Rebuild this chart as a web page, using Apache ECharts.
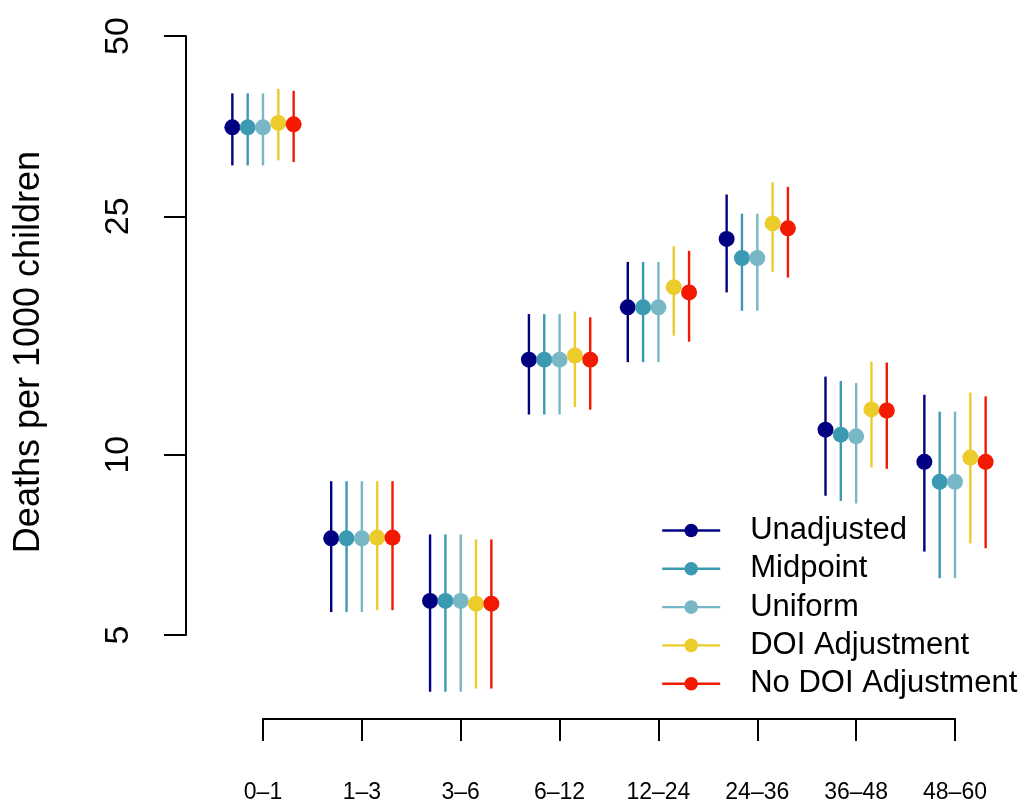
<!DOCTYPE html>
<html>
<head>
<meta charset="utf-8">
<script src="https://cdn.jsdelivr.net/npm/echarts@6/dist/echarts.min.js"></script>
<style>
  html, body { margin: 0; padding: 0; background: #ffffff; }
  #chart { width: 1021px; height: 804px; }
</style>
</head>
<body>
<div id="chart"></div>
<script>
// Age groups (months) and estimation methods
const ageGroups = ['0–1', '1–3', '3–6', '6–12', '12–24', '24–36', '36–48', '48–60'];
const methods = ['Unadjusted', 'Midpoint', 'Uniform', 'DOI Adjustment', 'No DOI Adjustment'];
const yTickValues = [5, 10, 25, 50];

// Point estimates, deaths per 1000 children
const unadjustedEst = [35.2, 7.25, 5.70, 14.41, 17.62, 22.92, 11.01, 9.73];
const midpointEst   = [35.2, 7.25, 5.70, 14.41, 17.62, 21.30, 10.80, 9.01];
const uniformEst    = [35.2, 7.25, 5.70, 14.41, 17.62, 21.30, 10.73, 9.01];
const doiEst        = [35.8, 7.27, 5.64, 14.64, 19.04, 24.33, 11.90, 9.89];
const noDoiEst      = [35.6, 7.27, 5.64, 14.41, 18.66, 23.87, 11.85, 9.73];

// Lower interval bounds
const unadjustedLow = [30.4, 5.46, 4.02, 11.67, 14.27, 18.66, 8.54, 6.89];
const midpointLow   = [30.4, 5.46, 4.02, 11.67, 14.27, 17.39, 8.37, 6.22];
const uniformLow    = [30.4, 5.46, 4.02, 11.67, 14.27, 17.39, 8.29, 6.22];
const doiLow        = [31.0, 5.50, 4.07, 12.01, 15.80, 20.19, 9.52, 7.11];
const noDoiLow      = [30.8, 5.50, 4.07, 11.89, 15.44, 19.76, 9.47, 6.98];

// Upper interval bounds
const unadjustedHigh = [40.1, 9.03, 7.36, 17.17, 20.98, 27.19, 13.50, 12.59];
const midpointHigh   = [40.1, 9.03, 7.36, 17.17, 20.98, 25.25, 13.27, 11.80];
const uniformHigh    = [40.1, 9.03, 7.36, 17.17, 20.98, 25.25, 13.17, 11.80];
const doiHigh        = [40.8, 9.03, 7.22, 17.33, 22.28, 28.50, 14.30, 12.70];
const noDoiHigh      = [40.5, 9.03, 7.22, 16.96, 21.89, 28.00, 14.25, 12.51];

const estimates = [unadjustedEst, midpointEst, uniformEst, doiEst, noDoiEst];
const lows = [unadjustedLow, midpointLow, uniformLow, doiLow, noDoiLow];
const highs = [unadjustedHigh, midpointHigh, uniformHigh, doiHigh, noDoiHigh];

const colors = ['#000080', '#3B9AB2', '#78B7C5', '#EBCC2A', '#F21A00'];
const dodge = [-0.31, -0.155, 0, 0.155, 0.31];
const FONT = "'Liberation Sans', Arial, Helvetica, sans-serif";

const series = [];
// Interval segments
methods.forEach((m, s) => {
  series.push({
    name: m + ' interval',
    type: 'custom',
    z: 2,
    silent: true,
    clip: false,
    data: ageGroups.map((g, i) => [i + dodge[s], lows[s][i], highs[s][i]]),
    renderItem: (params, api) => {
      const a = api.coord([api.value(0), api.value(1)]);
      const b = api.coord([api.value(0), api.value(2)]);
      return {
        type: 'line',
        shape: { x1: a[0], y1: a[1], x2: b[0], y2: b[1] },
        style: { stroke: colors[s], lineWidth: 2.4 }
      };
    }
  });
});
// Point estimates
methods.forEach((m, s) => {
  series.push({
    name: m,
    type: 'line',
    z: 3,
    clip: false,
    symbol: 'circle',
    symbolSize: 16,
    showSymbol: true,
    itemStyle: { color: colors[s] },
    lineStyle: { color: colors[s], width: 2.4, opacity: 0 },
    emphasis: { disabled: true },
    data: ageGroups.map((g, i) => [i + dodge[s], estimates[s][i]])
  });
});

const chart = echarts.init(document.getElementById('chart'));
chart.setOption({
  animation: false,
  backgroundColor: '#ffffff',
  textStyle: { fontFamily: FONT },
  grid: { left: 263, top: 36, width: 692, height: 601, containLabel: false },
  xAxis: {
    type: 'value',
    min: 0,
    max: 7,
    interval: 1,
    offset: 84,
    axisLine: { show: true, onZero: false, lineStyle: { color: '#000', width: 2 } },
    axisTick: { show: true, length: 22, lineStyle: { color: '#000', width: 2 } },
    axisLabel: {
      margin: 62,
      fontSize: 23,
      color: '#000',
      fontFamily: FONT,
      formatter: v => ageGroups[Math.round(v)]
    },
    splitLine: { show: false }
  },
  yAxis: {
    type: 'log',
    logBase: 10,
    min: 5,
    max: 50,
    offset: 77,
    axisLine: { show: true, onZero: false, lineStyle: { color: '#000', width: 2 } },
    axisTick: { show: true, length: 22, customValues: yTickValues, lineStyle: { color: '#000', width: 2 } },
    axisLabel: {
      customValues: yTickValues,
      rotate: 90,
      margin: 50,
      fontSize: 34,
      color: '#000',
      fontFamily: FONT,
      formatter: v => String(Math.round(v))
    },
    splitLine: { show: false },
    minorTick: { show: false }
  },
  legend: {
    orient: 'vertical',
    left: 661,
    top: 515,
    padding: 0,
    itemWidth: 58,
    itemHeight: 17,
    itemGap: 7.3,
    selectedMode: false,
    data: methods,
    lineStyle: { width: 2.4, opacity: 1 },
    textStyle: { fontSize: 31, color: '#000', fontFamily: FONT, padding: [0, 0, 0, 25] }
  },
  graphic: [{
    type: 'text',
    x: 29,
    y: 352,
    rotation: Math.PI / 2,
    style: {
      text: 'Deaths per 1000 children',
      fontSize: 36,
      fontFamily: FONT,
      fill: '#000',
      align: 'center',
      verticalAlign: 'middle'
    }
  }],
  series: series
});
</script>
</body>
</html>
